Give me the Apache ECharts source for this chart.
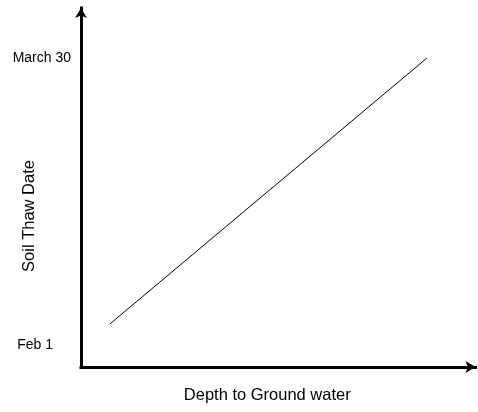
<!DOCTYPE html>
<html>
<head>
<meta charset="utf-8">
<script src="https://cdn.jsdelivr.net/npm/echarts@6/dist/echarts.min.js"></script>
<style>
html,body{margin:0;padding:0;background:#fff;}
#chart{width:478px;height:412px;}
</style>
</head>
<body>
<div id="chart"></div>
<script>
// Y values are day-of-year (Feb 1 = 32, March 30 = 89); X is relative depth (0-100)
const yTickValues = [32, 89];
const yTickLabels = ["Feb 1", "March 30"];
const depth = [7.35, 87.7];
const thawDay = [36.2, 89];
const xTitle = "Depth to Ground water";
const yTitle = "Soil Thaw Date";

const FONT = "'Liberation Sans', Arial, sans-serif";
const chart = echarts.init(document.getElementById('chart'), null, {renderer: 'canvas'});
const lineData = depth.map((d, i) => [d, thawDay[i]]);

chart.setOption({
  animation: false,
  backgroundColor: '#fff',
  grid: {left: 81, top: 8, right: 2.5, bottom: 45, containLabel: false, outerBoundsMode: 'none'},
  xAxis: {
    type: 'value', min: 0, max: 100,
    name: xTitle, nameLocation: 'middle', nameGap: 20, nameMoveOverlap: false,
    nameTextStyle: {fontFamily: FONT, fontSize: 16.5, color: '#000', padding: [0, 22, 0, 0]},
    axisLine: {show: true, onZero: false, symbol: ['none', 'arrow'], symbolSize: [9, 10],
      lineStyle: {color: '#000', width: 3, cap: 'square'}},
    axisTick: {show: false}, axisLabel: {show: false}, splitLine: {show: false}
  },
  yAxis: {
    type: 'value', min: 27.64, max: 98.93,
    name: yTitle, nameLocation: 'middle', nameGap: 43, nameRotate: 90, nameMoveOverlap: false,
    nameTextStyle: {fontFamily: FONT, fontSize: 16.5, color: '#000', padding: [0, 57, 0, 0]},
    axisLine: {show: true, onZero: false, symbol: ['none', 'arrow'], symbolSize: [9, 10],
      lineStyle: {color: '#000', width: 3, cap: 'square'}},
    axisTick: {show: false},
    splitLine: {show: false},
    axisLabel: {
      show: true, customValues: yTickValues, margin: 10,
      fontFamily: FONT, fontSize: 14, color: '#000',
      formatter: function (v) {
        const i = yTickValues.indexOf(v);
        if (i < 0) return '';
        return i === 0 ? '{f|' + yTickLabels[i] + '}' : yTickLabels[i];
      },
      rich: {f: {fontFamily: FONT, fontSize: 14, color: '#000', padding: [0, 18, 0, 0]}}
    }
  },
  series: [{
    type: 'line', data: lineData, showSymbol: false, symbol: 'none',
    lineStyle: {color: '#000', width: 1}
  }]
});
</script>
</body>
</html>
